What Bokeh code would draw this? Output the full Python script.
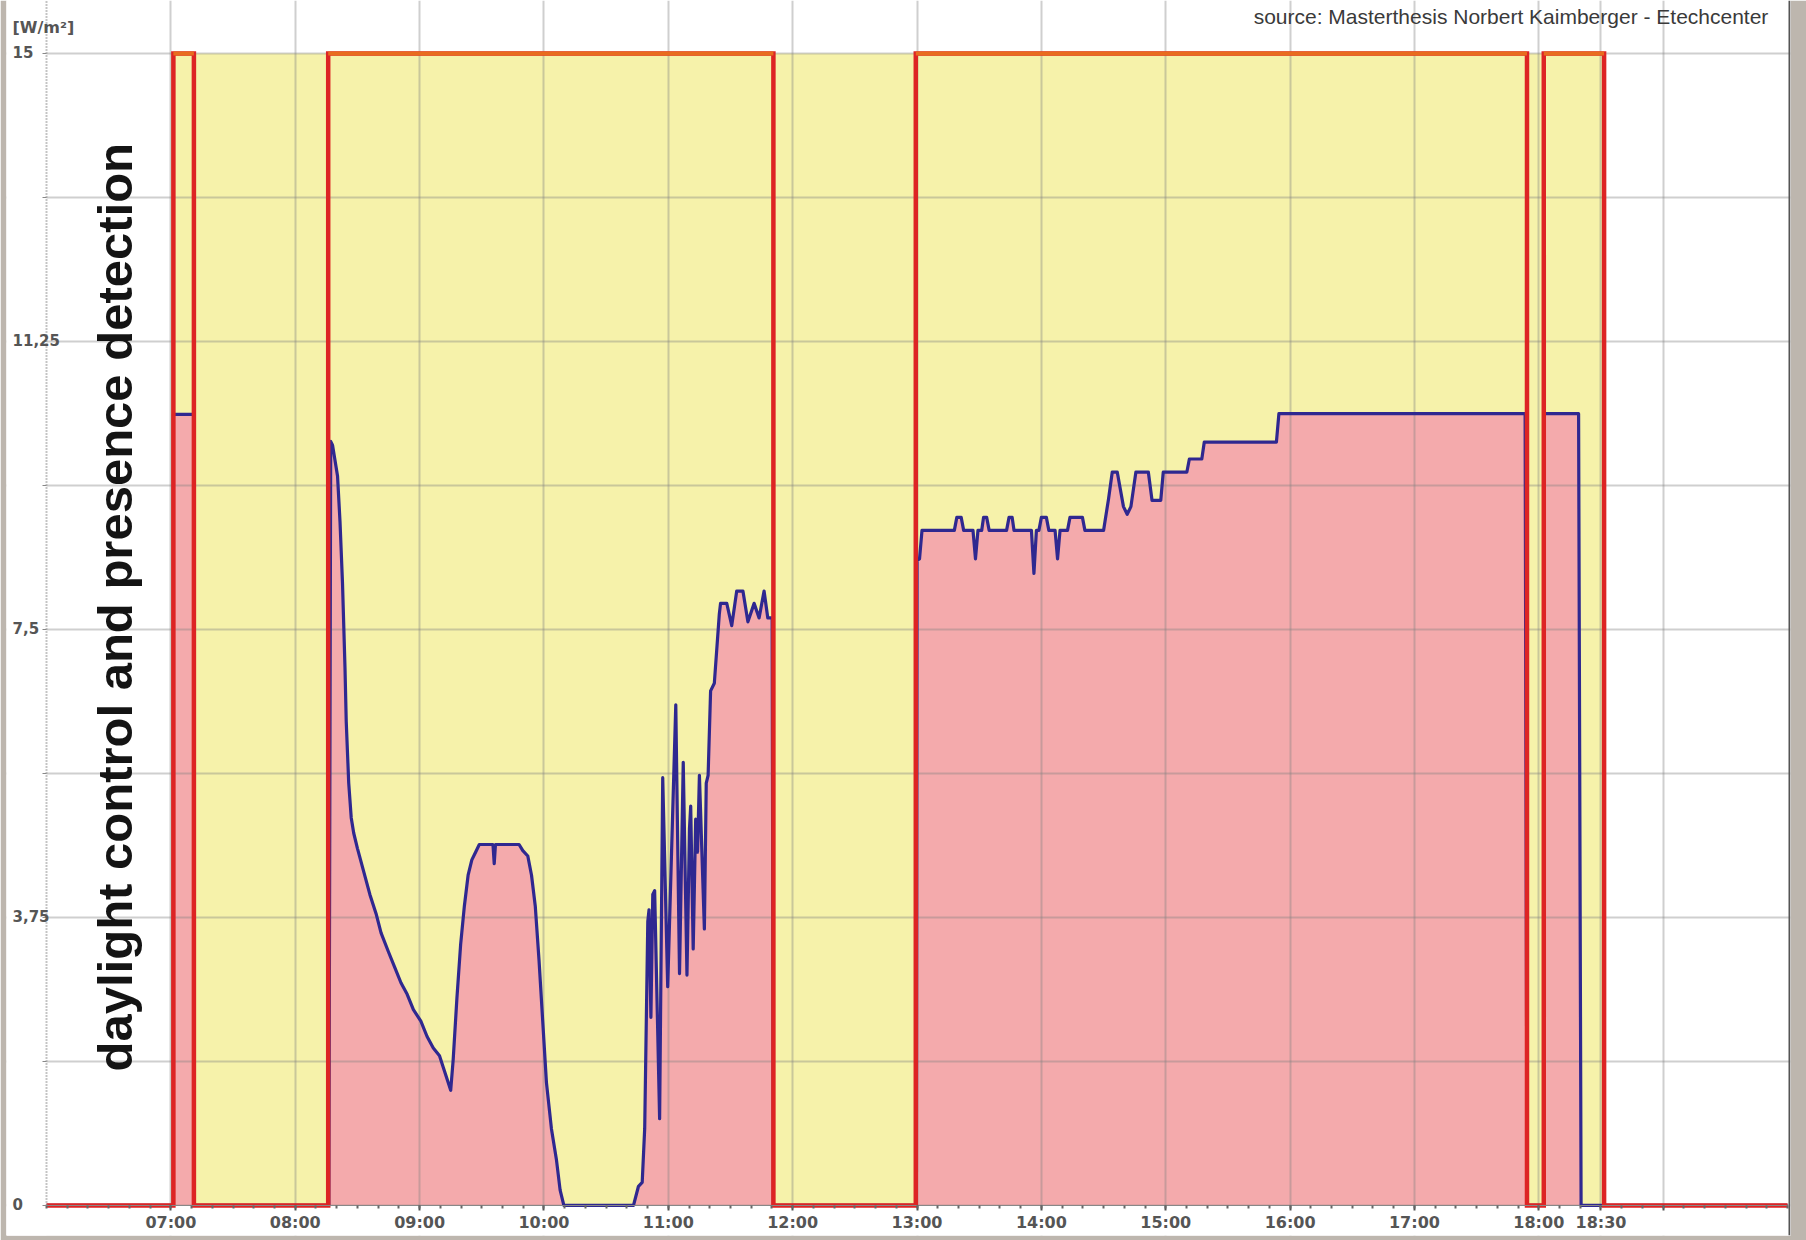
import math
from bokeh.plotting import figure
from bokeh.models import Range1d, FixedTicker, Label, LabelSet, ColumnDataSource, Span
from bokeh.core.properties import value
from bokeh.embed import file_html
from bokeh.resources import INLINE

# ---------------- data ----------------
# time in hours of day, power density in W/m²
power_time = [6.0, 7.02, 7.02, 7.185, 7.185, 8.265, 8.27, 8.285, 8.30, 8.34, 8.36, 8.38, 8.40,
              8.41, 8.43, 8.45, 8.47, 8.50, 8.55, 8.60, 8.65, 8.69, 8.75, 8.80, 8.85, 8.90,
              8.95, 9.01, 9.06, 9.11, 9.16, 9.19, 9.22, 9.25, 9.27, 9.30, 9.33, 9.36, 9.39,
              9.42, 9.45, 9.48, 9.59, 9.60, 9.61, 9.80, 9.83, 9.87, 9.90, 9.93, 9.96, 9.99,
              10.02, 10.06, 10.10, 10.13, 10.16, 10.72, 10.76, 10.79, 10.81, 10.835, 10.845,
              10.86, 10.875, 10.89, 10.93, 10.955, 10.995, 11.06, 11.09, 11.12, 11.15, 11.17,
              11.18, 11.20, 11.22, 11.235, 11.25, 11.29, 11.305, 11.32, 11.34, 11.37, 11.41,
              11.42, 11.47, 11.51, 11.55, 11.60, 11.64, 11.69, 11.73, 11.77, 11.80, 11.835,
              11.845, 12.995, 13.0, 13.02, 13.04, 13.30, 13.32, 13.355, 13.375, 13.45, 13.47,
              13.49, 13.52, 13.535, 13.56, 13.58, 13.72, 13.74, 13.765, 13.78, 13.92, 13.94,
              13.96, 13.98, 14.0, 14.04, 14.06, 14.11, 14.13, 14.15, 14.21, 14.23, 14.33,
              14.35, 14.50, 14.54, 14.57, 14.61, 14.66, 14.69, 14.72, 14.76, 14.86, 14.89,
              14.96, 14.98, 15.17, 15.19, 15.29, 15.31, 15.89, 15.91, 17.89, 17.905, 18.04,
              18.045, 18.32, 18.34, 20.0]
power_value = [0.0, 0.0, 10.3, 10.3, 0.0, 0.0, 0.0, 9.95, 9.9, 9.5, 8.9, 8.1, 7.0,
               6.3, 5.5, 5.05, 4.85, 4.65, 4.35, 4.05, 3.8, 3.55, 3.3, 3.1, 2.9, 2.75,
               2.55, 2.4, 2.2, 2.05, 1.95, 1.8, 1.65, 1.5, 1.9, 2.7, 3.4, 3.9, 4.3,
               4.5, 4.6, 4.7, 4.7, 4.45, 4.7, 4.7, 4.62, 4.55, 4.3, 3.9, 3.2, 2.4,
               1.6, 1.0, 0.6, 0.2, 0.0, 0.0, 0.25, 0.3, 1.0, 3.7, 3.85,
               2.45, 4.05, 4.1, 1.13, 5.57, 2.85, 6.52, 3.02, 5.77, 3.0, 4.9,
               5.2, 3.34, 5.03, 4.6, 5.6, 3.6, 5.5, 5.6, 6.7, 6.8, 7.7,
               7.84, 7.84, 7.55, 8.0, 8.0, 7.6, 7.84, 7.65, 8.0, 7.65, 7.65,
               0.0, 0.0, 8.4, 8.42, 8.79, 8.79, 8.96, 8.96, 8.79, 8.79, 8.42,
               8.79, 8.79, 8.96, 8.96, 8.79, 8.79, 8.96, 8.96, 8.79, 8.79, 8.23,
               8.79, 8.79, 8.96, 8.96, 8.79, 8.79, 8.42, 8.79, 8.79, 8.96, 8.96,
               8.79, 8.79, 9.2, 9.55, 9.55, 9.1, 9.0, 9.1, 9.55, 9.55, 9.18,
               9.18, 9.55, 9.55, 9.72, 9.72, 9.94, 9.94, 10.31, 10.31, 0.0, 0.0,
               10.31, 10.31, 0.0, 0.0]

# presence detection intervals (on / off, hours)
presence_on = [7.02, 8.265, 12.99, 18.04]
presence_off = [7.185, 11.845, 17.905, 18.525]
presence_level = 15

# working-time band (yellow)
band_start = [7.0]
band_end = [18.525]

x_ticks = [7, 8, 9, 10, 11, 12, 13, 14, 15, 16, 17, 18, 18.5, 19]
x_tick_labels = ["07:00", "08:00", "09:00", "10:00", "11:00", "12:00", "13:00", "14:00",
                 "15:00", "16:00", "17:00", "18:00", "18:30", ""]
y_ticks = [0, 1.875, 3.75, 5.625, 7.5, 9.375, 11.25, 13.125, 15]
y_tick_labels = ["0", "", "3,75", "", "7,5", "", "11,25", "", "15"]
unit_text = "[W/m²]"

# axis extents (hours / W/m²)
x_start, x_end = 6.0, 20.0
y_start, y_end = 0.0, 15.69

# ---------------- figure ----------------
W, H = 1806, 1240
xr = Range1d(5.678, 20.024)
yr = Range1d(-0.391, 15.69)
p = figure(width=W, height=H, output_backend="svg", toolbar_location=None,
           x_range=xr, y_range=yr,
           min_border_left=6, min_border_right=16, min_border_top=0, min_border_bottom=5,
           background_fill_color="white", border_fill_color="#bdb6ae")
p.outline_line_color = None

# fills (below grid)
p.quad(left=band_start, right=band_end, bottom=[0] * len(band_start),
       top=[presence_level] * len(band_start), fill_color="#f6f2aa", line_color=None,
       level="image")
p.varea(x=power_time, y1=[0] * len(power_time), y2=power_value, fill_color="#f4aaac",
        level="image")

# grid
for g in (p.xgrid, p.ygrid):
    g.grid_line_color = "#808080"
    g.grid_line_alpha = 0.38
    g.grid_line_width = 2
p.ygrid.ticker = FixedTicker(ticks=y_ticks)

# white margin areas (left of the y axis, below the x axis) hide the grid there
p.quad(left=[xr.start, xr.start], right=[x_start, xr.end], bottom=[yr.start, yr.start],
       top=[yr.end, y_start], fill_color="white", line_color=None)

# x axis, fixed at 0
minor_x = [6 + i / 6 for i in range(85)]
p.xaxis.fixed_location = y_start
p.xaxis.bounds = (x_start, x_end)
p.xaxis.ticker = FixedTicker(ticks=x_ticks, minor_ticks=minor_x)
p.xaxis.major_label_overrides = {t: l for t, l in zip(x_ticks, x_tick_labels)}
p.xaxis.axis_line_color = "#888888"
p.xaxis.major_tick_line_color = "#555555"
p.xaxis.major_tick_line_width = 2
p.xaxis.major_tick_out = 5
p.xaxis.major_tick_in = 0
p.xaxis.minor_tick_line_color = "#666666"
p.xaxis.minor_tick_line_width = 2
p.xaxis.minor_tick_out = 3
p.xaxis.minor_tick_in = 0
p.xaxis.major_label_standoff = 3
p.xaxis.major_label_text_font = "DejaVu Sans"
p.xaxis.major_label_text_font_style = "bold"
p.xaxis.major_label_text_font_size = "16px"
p.xaxis.major_label_text_color = "#555555"

# y axis, fixed at 06:00
p.yaxis.fixed_location = x_start
p.yaxis.bounds = (y_start, y_end)
p.yaxis.ticker = FixedTicker(ticks=y_ticks, minor_ticks=y_ticks)
p.yaxis.major_label_overrides = {t: "" for t in y_ticks}
p.yaxis.axis_line_color = "#8a8a8a"
p.yaxis.axis_line_width = 2
p.yaxis.axis_line_dash = "1 2"
p.yaxis.major_tick_out = 0
p.yaxis.major_tick_in = 0
p.yaxis.minor_tick_line_color = "#888888"
p.yaxis.minor_tick_out = 4
p.yaxis.minor_tick_in = 0

# power line
p.line(power_time, power_value, line_color="#2f2890", line_width=3.2, line_join="round")

# presence step line
step_x, step_y = [x_start], [0]
for a, b in zip(presence_on, presence_off):
    step_x += [a, a, b, b]
    step_y += [0, presence_level, presence_level, 0]
step_x.append(x_end)
step_y.append(0)
p.line(step_x, step_y, line_color="#dd2424", line_width=4.5, line_join="miter")
p.segment(x0=presence_on, x1=presence_off, y0=[presence_level] * len(presence_on),
          y1=[presence_level] * len(presence_on), line_color="#e86c1e", line_width=4)

# y tick labels, left aligned at the far left as in the original
label_x = 5.7267
ylab_src = ColumnDataSource(dict(
    y=[t for t, l in zip(y_ticks, y_tick_labels) if l],
    text=[l for l in y_tick_labels if l]))
p.add_layout(LabelSet(x=label_x, y="y", text="text", source=ylab_src,
                      text_align="left", text_baseline="middle", y_offset=1,
                      text_font=value("DejaVu Sans"), text_font_style="bold",
                      text_font_size="15px", text_color="#555555"))
p.add_layout(Label(x=label_x, y=15.34, text=unit_text, text_align="left",
                   text_baseline="middle", text_font="DejaVu Sans", text_font_style="bold",
                   text_font_size="16px", text_color="#555555"))

p.add_layout(Label(x=19.846, y=15.477, text="source: Masterthesis Norbert Kaimberger - Etechcenter",
                   text_align="right", text_baseline="alphabetic", text_font="Liberation Sans",
                   text_font_size="21px", text_color="#3a3a3a"))

p.add_layout(Label(x=6.55, y=7.79, text="daylight control and presence detection",
                   angle=math.pi / 2, text_align="center", text_baseline="alphabetic",
                   text_font="Liberation Sans", text_font_style="bold",
                   text_font_size="49px", text_color="#141414"))

# dark right-hand border of the original screenshot
p.add_layout(Span(location=20.016, dimension="height", line_color="#555555", line_width=2))

open("out.html", "w").write(file_html(p, INLINE))
